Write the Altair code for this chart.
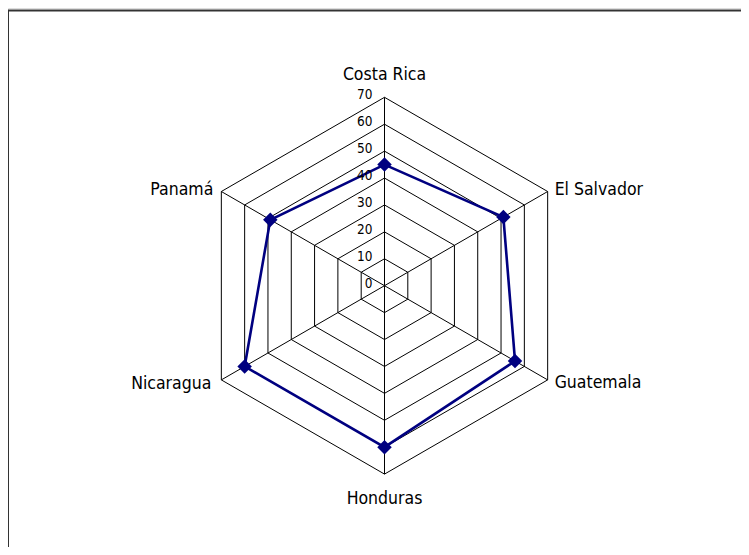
import math
import altair as alt
import pandas as pd

categories = ["Costa Rica", "El Salvador", "Guatemala", "Honduras", "Nicaragua", "Panamá"]
values = [45, 51, 56, 60, 60, 49]
tick_values = [0, 10, 20, 30, 40, 50, 60, 70]
rmax = 70

W, H = 733, 539
cx, cy = 376.5, 277.7
k = 188.4 / rmax
xdom = [-cx / k, (W - cx) / k]
ydom = [-(H - cy) / k, cy / k]

n = len(categories)
xs = alt.Scale(domain=xdom, nice=False, zero=False)
ys = alt.Scale(domain=ydom, nice=False, zero=False)
X = lambda f="x": alt.X(f"{f}:Q", scale=xs, axis=None)
Y = lambda f="y": alt.Y(f"{f}:Q", scale=ys, axis=None)

def calc(ch, rfield, ifield):
    return ch.transform_calculate(
        x=f"datum.{rfield} * sin(datum.{ifield} * PI / 3)",
        y=f"datum.{rfield} * cos(datum.{ifield} * PI / 3)",
    )

# grid hexagons
grid_df = pd.DataFrame(
    [{"level": lv, "idx": i} for lv in tick_values[1:] for i in range(n + 1)]
)
grid = calc(alt.Chart(grid_df), "level", "idx").mark_line(
    color="#000000", strokeWidth=1
).encode(x=X(), y=Y(), detail="level:N", order="idx:Q")

# spokes
spoke_df = pd.DataFrame(
    [{"spoke": i, "r": r, "idx": i} for i in range(n) for r in (0, rmax)]
)
spokes = calc(alt.Chart(spoke_df), "r", "idx").mark_line(
    color="#000000", strokeWidth=1
).encode(x=X(), y=Y(), detail="spoke:N", order="r:Q")

# data series
series_df = pd.DataFrame(
    {"cat": categories + [categories[0]], "value": values + [values[0]],
     "idx": list(range(n)) + [n], "ord": list(range(n + 1))}
)
line = calc(alt.Chart(series_df), "value", "idx").mark_line(
    color="#000080", strokeWidth=2.6
).encode(x=X(), y=Y(), order="ord:Q")
pts = calc(alt.Chart(series_df.iloc[:n]), "value", "idx").mark_point(
    shape="diamond", filled=True, color="#000080", size=210, opacity=1
).encode(x=X(), y=Y())

FONT = "Liberation Sans Narrow, Arial Narrow, DejaVu Sans Condensed, sans-serif"

# tick labels
tick_df = pd.DataFrame({"t": tick_values})
ticks = alt.Chart(tick_df).mark_text(
    align="right", baseline="middle", dx=-12, dy=-2, font=FONT, fontSize=13.5, color="#000000"
).encode(x=alt.X("zero:Q", scale=xs, axis=None), y=alt.Y("t:Q", scale=ys, axis=None),
         text="t:Q").transform_calculate(zero="0")

# category labels
label_df = pd.DataFrame({"cat": categories, "idx": list(range(n)), "r": [rmax] * n})
label_style = {
    "Costa Rica": dict(align="center", dx=0, dy=-17),
    "El Salvador": dict(align="left", dx=7, dy=3.5),
    "Guatemala": dict(align="left", dx=7, dy=8),
    "Honduras": dict(align="center", dx=0, dy=30),
    "Nicaragua": dict(align="right", dx=-10, dy=9),
    "Panamá": dict(align="right", dx=-8, dy=3.5),
}
labels = []
for c in categories:
    st = label_style[c]
    labels.append(
        calc(alt.Chart(label_df), "r", "idx").transform_filter(alt.datum.cat == c)
        .mark_text(baseline="alphabetic", font=FONT, fontSize=17.5, color="#000000", **st)
        .encode(x=X(), y=Y(), text="cat:N")
    )

# frame (decorative)
frame_df = pd.DataFrame({"a": [0]})
frame_left = alt.Chart(frame_df).mark_rule(color="#333333", strokeWidth=2).encode(
    x=alt.value(0), y=alt.value(2), y2=alt.value(H))
frame_top = alt.Chart(frame_df).mark_rule(color="#333333", strokeWidth=2).encode(
    x=alt.value(0), x2=alt.value(W), y=alt.value(2.5))

chart = alt.layer(grid, spokes, line, pts, ticks, *labels, frame_left, frame_top).properties(
    width=W, height=H, padding=0, autosize=alt.AutoSizeParams(type="none")
).configure_view(stroke=None).configure(background="white")

chart.save("out.html", embed_options={"renderer": "svg", "actions": False})
